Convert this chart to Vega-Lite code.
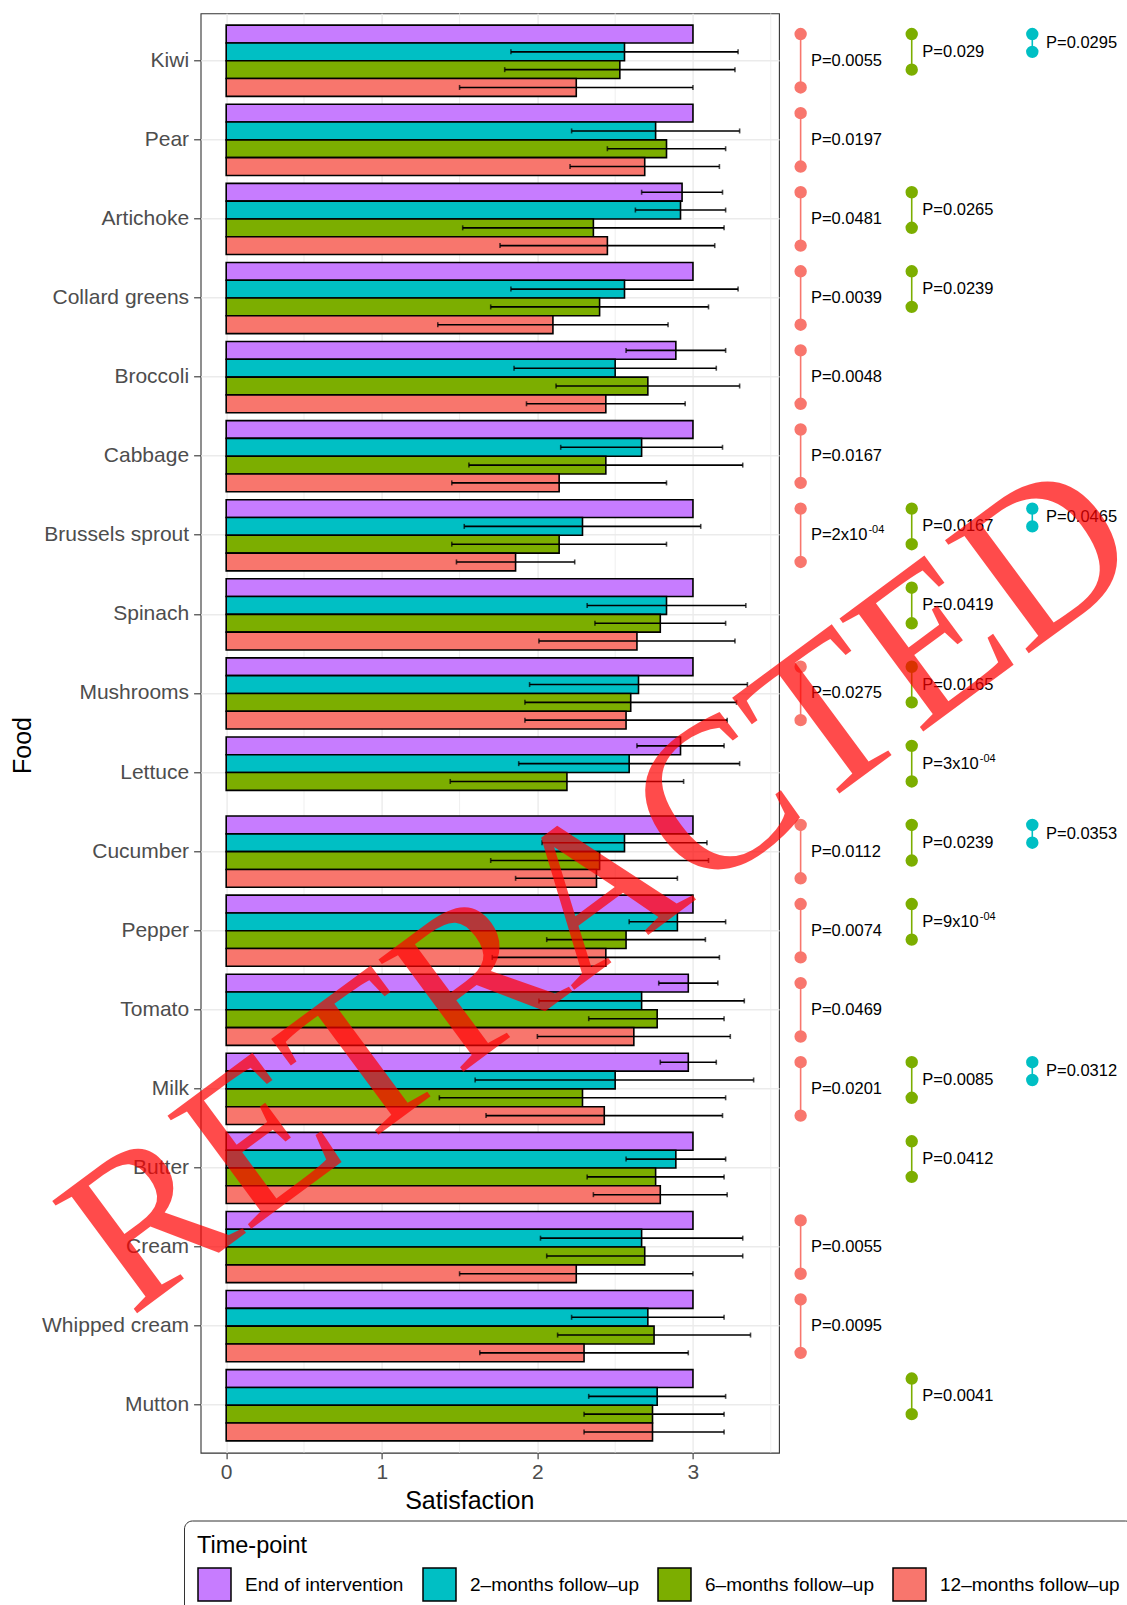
{
  "$schema": "https://vega.github.io/schema/vega-lite/v6.json",
  "width": 578.4,
  "height": 1439.4,
  "autosize": {"type": "none"},
  "padding": {"left": 200.6, "top": 13.3, "right": 348, "bottom": 152.3},
  "background": "white",
  "config": {
    "font": "Liberation Sans",
    "view": {"stroke": "#333333", "strokeWidth": 1.1},
    "axis": {
      "domain": false,
      "grid": true,
      "gridColor": "#EBEBEB",
      "gridWidth": 1.4,
      "tickColor": "#333333",
      "tickWidth": 1.1,
      "labelColor": "#4D4D4D",
      "labelFontSize": 21,
      "titleColor": "black",
      "titleFontSize": 25,
      "titleFontWeight": "normal"
    }
  },
  "datasets": {
    "bars": [
      {"food": "Kiwi", "tp": "End of intervention", "mean": 3.0, "lo": null, "hi": null},
      {"food": "Kiwi", "tp": "2–months follow–up", "mean": 2.56, "lo": 1.83, "hi": 3.29},
      {"food": "Kiwi", "tp": "6–months follow–up", "mean": 2.53, "lo": 1.79, "hi": 3.27},
      {"food": "Kiwi", "tp": "12–months follow–up", "mean": 2.25, "lo": 1.5, "hi": 3.0},
      {"food": "Pear", "tp": "End of intervention", "mean": 3.0, "lo": null, "hi": null},
      {"food": "Pear", "tp": "2–months follow–up", "mean": 2.76, "lo": 2.22, "hi": 3.3},
      {"food": "Pear", "tp": "6–months follow–up", "mean": 2.83, "lo": 2.45, "hi": 3.21},
      {"food": "Pear", "tp": "12–months follow–up", "mean": 2.69, "lo": 2.21, "hi": 3.17},
      {"food": "Artichoke", "tp": "End of intervention", "mean": 2.93, "lo": 2.67, "hi": 3.19},
      {"food": "Artichoke", "tp": "2–months follow–up", "mean": 2.92, "lo": 2.63, "hi": 3.21},
      {"food": "Artichoke", "tp": "6–months follow–up", "mean": 2.36, "lo": 1.52, "hi": 3.2},
      {"food": "Artichoke", "tp": "12–months follow–up", "mean": 2.45, "lo": 1.76, "hi": 3.14},
      {"food": "Collard greens", "tp": "End of intervention", "mean": 3.0, "lo": null, "hi": null},
      {"food": "Collard greens", "tp": "2–months follow–up", "mean": 2.56, "lo": 1.83, "hi": 3.29},
      {"food": "Collard greens", "tp": "6–months follow–up", "mean": 2.4, "lo": 1.7, "hi": 3.1},
      {"food": "Collard greens", "tp": "12–months follow–up", "mean": 2.1, "lo": 1.36, "hi": 2.84},
      {"food": "Broccoli", "tp": "End of intervention", "mean": 2.89, "lo": 2.57, "hi": 3.21},
      {"food": "Broccoli", "tp": "2–months follow–up", "mean": 2.5, "lo": 1.85, "hi": 3.15},
      {"food": "Broccoli", "tp": "6–months follow–up", "mean": 2.71, "lo": 2.12, "hi": 3.3},
      {"food": "Broccoli", "tp": "12–months follow–up", "mean": 2.44, "lo": 1.93, "hi": 2.95},
      {"food": "Cabbage", "tp": "End of intervention", "mean": 3.0, "lo": null, "hi": null},
      {"food": "Cabbage", "tp": "2–months follow–up", "mean": 2.67, "lo": 2.15, "hi": 3.19},
      {"food": "Cabbage", "tp": "6–months follow–up", "mean": 2.44, "lo": 1.56, "hi": 3.32},
      {"food": "Cabbage", "tp": "12–months follow–up", "mean": 2.14, "lo": 1.45, "hi": 2.83},
      {"food": "Brussels sprout", "tp": "End of intervention", "mean": 3.0, "lo": null, "hi": null},
      {"food": "Brussels sprout", "tp": "2–months follow–up", "mean": 2.29, "lo": 1.53, "hi": 3.05},
      {"food": "Brussels sprout", "tp": "6–months follow–up", "mean": 2.14, "lo": 1.45, "hi": 2.83},
      {"food": "Brussels sprout", "tp": "12–months follow–up", "mean": 1.86, "lo": 1.48, "hi": 2.24},
      {"food": "Spinach", "tp": "End of intervention", "mean": 3.0, "lo": null, "hi": null},
      {"food": "Spinach", "tp": "2–months follow–up", "mean": 2.83, "lo": 2.32, "hi": 3.34},
      {"food": "Spinach", "tp": "6–months follow–up", "mean": 2.79, "lo": 2.37, "hi": 3.21},
      {"food": "Spinach", "tp": "12–months follow–up", "mean": 2.64, "lo": 2.01, "hi": 3.27},
      {"food": "Mushrooms", "tp": "End of intervention", "mean": 3.0, "lo": null, "hi": null},
      {"food": "Mushrooms", "tp": "2–months follow–up", "mean": 2.65, "lo": 1.95, "hi": 3.35},
      {"food": "Mushrooms", "tp": "6–months follow–up", "mean": 2.6, "lo": 1.92, "hi": 3.28},
      {"food": "Mushrooms", "tp": "12–months follow–up", "mean": 2.57, "lo": 1.92, "hi": 3.22},
      {"food": "Lettuce", "tp": "End of intervention", "mean": 2.92, "lo": 2.64, "hi": 3.2},
      {"food": "Lettuce", "tp": "2–months follow–up", "mean": 2.59, "lo": 1.88, "hi": 3.3},
      {"food": "Lettuce", "tp": "6–months follow–up", "mean": 2.19, "lo": 1.44, "hi": 2.94},
      {"food": "Cucumber", "tp": "End of intervention", "mean": 3.0, "lo": null, "hi": null},
      {"food": "Cucumber", "tp": "2–months follow–up", "mean": 2.56, "lo": 2.03, "hi": 3.09},
      {"food": "Cucumber", "tp": "6–months follow–up", "mean": 2.4, "lo": 1.7, "hi": 3.1},
      {"food": "Cucumber", "tp": "12–months follow–up", "mean": 2.38, "lo": 1.86, "hi": 2.9},
      {"food": "Pepper", "tp": "End of intervention", "mean": 3.0, "lo": null, "hi": null},
      {"food": "Pepper", "tp": "2–months follow–up", "mean": 2.9, "lo": 2.59, "hi": 3.21},
      {"food": "Pepper", "tp": "6–months follow–up", "mean": 2.57, "lo": 2.06, "hi": 3.08},
      {"food": "Pepper", "tp": "12–months follow–up", "mean": 2.44, "lo": 1.71, "hi": 3.17},
      {"food": "Tomato", "tp": "End of intervention", "mean": 2.97, "lo": 2.78, "hi": 3.16},
      {"food": "Tomato", "tp": "2–months follow–up", "mean": 2.67, "lo": 2.01, "hi": 3.33},
      {"food": "Tomato", "tp": "6–months follow–up", "mean": 2.77, "lo": 2.33, "hi": 3.2},
      {"food": "Tomato", "tp": "12–months follow–up", "mean": 2.62, "lo": 2.0, "hi": 3.24},
      {"food": "Milk", "tp": "End of intervention", "mean": 2.97, "lo": 2.79, "hi": 3.15},
      {"food": "Milk", "tp": "2–months follow–up", "mean": 2.5, "lo": 1.6, "hi": 3.39},
      {"food": "Milk", "tp": "6–months follow–up", "mean": 2.29, "lo": 1.37, "hi": 3.21},
      {"food": "Milk", "tp": "12–months follow–up", "mean": 2.43, "lo": 1.67, "hi": 3.19},
      {"food": "Butter", "tp": "End of intervention", "mean": 3.0, "lo": null, "hi": null},
      {"food": "Butter", "tp": "2–months follow–up", "mean": 2.89, "lo": 2.57, "hi": 3.21},
      {"food": "Butter", "tp": "6–months follow–up", "mean": 2.76, "lo": 2.32, "hi": 3.2},
      {"food": "Butter", "tp": "12–months follow–up", "mean": 2.79, "lo": 2.36, "hi": 3.22},
      {"food": "Cream", "tp": "End of intervention", "mean": 3.0, "lo": null, "hi": null},
      {"food": "Cream", "tp": "2–months follow–up", "mean": 2.67, "lo": 2.02, "hi": 3.32},
      {"food": "Cream", "tp": "6–months follow–up", "mean": 2.69, "lo": 2.06, "hi": 3.32},
      {"food": "Cream", "tp": "12–months follow–up", "mean": 2.25, "lo": 1.5, "hi": 3.0},
      {"food": "Whipped cream", "tp": "End of intervention", "mean": 3.0, "lo": null, "hi": null},
      {"food": "Whipped cream", "tp": "2–months follow–up", "mean": 2.71, "lo": 2.22, "hi": 3.2},
      {"food": "Whipped cream", "tp": "6–months follow–up", "mean": 2.75, "lo": 2.13, "hi": 3.37},
      {"food": "Whipped cream", "tp": "12–months follow–up", "mean": 2.3, "lo": 1.63, "hi": 2.97},
      {"food": "Mutton", "tp": "End of intervention", "mean": 3.0, "lo": null, "hi": null},
      {"food": "Mutton", "tp": "2–months follow–up", "mean": 2.77, "lo": 2.33, "hi": 3.21},
      {"food": "Mutton", "tp": "6–months follow–up", "mean": 2.74, "lo": 2.3, "hi": 3.2},
      {"food": "Mutton", "tp": "12–months follow–up", "mean": 2.74, "lo": 2.3, "hi": 3.2}
    ],
    "pvals": [
      {"food": "Kiwi", "ref": "End of intervention", "cmp": "12–months follow–up", "p": "P=0.0055", "sup": ""},
      {"food": "Pear", "ref": "End of intervention", "cmp": "12–months follow–up", "p": "P=0.0197", "sup": ""},
      {"food": "Artichoke", "ref": "End of intervention", "cmp": "12–months follow–up", "p": "P=0.0481", "sup": ""},
      {"food": "Collard greens", "ref": "End of intervention", "cmp": "12–months follow–up", "p": "P=0.0039", "sup": ""},
      {"food": "Broccoli", "ref": "End of intervention", "cmp": "12–months follow–up", "p": "P=0.0048", "sup": ""},
      {"food": "Cabbage", "ref": "End of intervention", "cmp": "12–months follow–up", "p": "P=0.0167", "sup": ""},
      {"food": "Brussels sprout", "ref": "End of intervention", "cmp": "12–months follow–up", "p": "P=2x10", "sup": "-04"},
      {"food": "Mushrooms", "ref": "End of intervention", "cmp": "12–months follow–up", "p": "P=0.0275", "sup": ""},
      {"food": "Cucumber", "ref": "End of intervention", "cmp": "12–months follow–up", "p": "P=0.0112", "sup": ""},
      {"food": "Pepper", "ref": "End of intervention", "cmp": "12–months follow–up", "p": "P=0.0074", "sup": ""},
      {"food": "Tomato", "ref": "End of intervention", "cmp": "12–months follow–up", "p": "P=0.0469", "sup": ""},
      {"food": "Milk", "ref": "End of intervention", "cmp": "12–months follow–up", "p": "P=0.0201", "sup": ""},
      {"food": "Cream", "ref": "End of intervention", "cmp": "12–months follow–up", "p": "P=0.0055", "sup": ""},
      {"food": "Whipped cream", "ref": "End of intervention", "cmp": "12–months follow–up", "p": "P=0.0095", "sup": ""},
      {"food": "Kiwi", "ref": "End of intervention", "cmp": "6–months follow–up", "p": "P=0.029", "sup": ""},
      {"food": "Artichoke", "ref": "End of intervention", "cmp": "6–months follow–up", "p": "P=0.0265", "sup": ""},
      {"food": "Collard greens", "ref": "End of intervention", "cmp": "6–months follow–up", "p": "P=0.0239", "sup": ""},
      {"food": "Brussels sprout", "ref": "End of intervention", "cmp": "6–months follow–up", "p": "P=0.0167", "sup": ""},
      {"food": "Spinach", "ref": "End of intervention", "cmp": "6–months follow–up", "p": "P=0.0419", "sup": ""},
      {"food": "Mushrooms", "ref": "End of intervention", "cmp": "6–months follow–up", "p": "P=0.0165", "sup": ""},
      {"food": "Lettuce", "ref": "End of intervention", "cmp": "6–months follow–up", "p": "P=3x10", "sup": "-04"},
      {"food": "Cucumber", "ref": "End of intervention", "cmp": "6–months follow–up", "p": "P=0.0239", "sup": ""},
      {"food": "Pepper", "ref": "End of intervention", "cmp": "6–months follow–up", "p": "P=9x10", "sup": "-04"},
      {"food": "Milk", "ref": "End of intervention", "cmp": "6–months follow–up", "p": "P=0.0085", "sup": ""},
      {"food": "Butter", "ref": "End of intervention", "cmp": "6–months follow–up", "p": "P=0.0412", "sup": ""},
      {"food": "Mutton", "ref": "End of intervention", "cmp": "6–months follow–up", "p": "P=0.0041", "sup": ""},
      {"food": "Kiwi", "ref": "End of intervention", "cmp": "2–months follow–up", "p": "P=0.0295", "sup": ""},
      {"food": "Brussels sprout", "ref": "End of intervention", "cmp": "2–months follow–up", "p": "P=0.0465", "sup": ""},
      {"food": "Cucumber", "ref": "End of intervention", "cmp": "2–months follow–up", "p": "P=0.0353", "sup": ""},
      {"food": "Milk", "ref": "End of intervention", "cmp": "2–months follow–up", "p": "P=0.0312", "sup": ""}
    ],
    "minorGrid": [{"g": 0.5}, {"g": 1.5}, {"g": 2.5}, {"g": 3.5}]
  },
  "layer": [
    {
      "data": {"name": "minorGrid"},
      "mark": {"type": "rule", "color": "#EBEBEB", "strokeWidth": 0.8},
      "encoding": {"x": {"field": "g", "type": "quantitative", "title": "Satisfaction"}}
    },
    {
      "data": {"name": "bars"},
      "mark": {"type": "bar", "stroke": "black", "strokeWidth": 1.6, "opacity": 1},
      "encoding": {
        "x": {
          "field": "mean", "type": "quantitative", "title": "Satisfaction",
          "scale": {"domain": [-0.1645, 3.553], "nice": false},
          "axis": {"values": [0, 1, 2, 3], "format": "d", "tickSize": 6, "labelPadding": 3,
                   "titleX": 268.7, "titleY": 55.6, "titleBaseline": "alphabetic", "titleAlign": "center"}
        },
        "x2": {"datum": 0},
        "y": {
          "field": "food", "type": "nominal", "title": "Food", "sort": null,
          "scale": {
            "domain": ["Kiwi", "Pear", "Artichoke", "Collard greens", "Broccoli", "Cabbage", "Brussels sprout", "Spinach", "Mushrooms", "Lettuce", "Cucumber", "Pepper", "Tomato", "Milk", "Butter", "Cream", "Whipped cream", "Mutton"],
            "paddingInner": 0.1, "paddingOuter": 0.15
          },
          "axis": {"bandPosition": 0.5, "tickSize": 7, "labelPadding": 5,
                   "titleX": -178.6, "titleY": 731.7, "titleAngle": -90, "titleBaseline": "middle", "titleAlign": "center"}
        },
        "yOffset": {
          "field": "tp", "type": "nominal", "sort": null,
          "scale": {"domain": ["End of intervention", "2–months follow–up", "6–months follow–up", "12–months follow–up"], "paddingInner": 0, "paddingOuter": 0}
        },
        "color": {
          "field": "tp", "type": "nominal", "sort": null,
          "scale": {
            "domain": ["End of intervention", "2–months follow–up", "6–months follow–up", "12–months follow–up"],
            "range": ["#C77CFF", "#00BFC4", "#7CAE00", "#F8766D"]
          },
          "legend": {
            "title": "Time-point", "orient": "none", "legendX": -16.6, "legendY": 1507.2,
            "direction": "horizontal", "titleFontSize": 23.5, "titleFontWeight": "normal", "titleColor": "black",
            "titlePadding": 10, "labelFontSize": 19, "labelColor": "black", "labelOffset": 13, "labelLimit": 400,
            "symbolType": "square", "symbolSize": 1089, "symbolStrokeColor": "black", "symbolStrokeWidth": 1.5,
            "symbolOpacity": 1, "columnPadding": 16, "padding": 13, "strokeColor": "#333333",
            "fillColor": "white", "cornerRadius": 8
          }
        }
      }
    },
    {
      "data": {"name": "bars"},
      "transform": [{"filter": "datum.lo != null"}],
      "mark": {"type": "rule", "color": "black", "strokeWidth": 1.6},
      "encoding": {
        "x": {"field": "lo", "type": "quantitative", "title": "Satisfaction"},
        "x2": {"field": "hi"},
        "y": {"field": "food", "type": "nominal", "title": "Food"},
        "yOffset": {"field": "tp", "type": "nominal"}
      }
    },
    {
      "data": {"name": "bars"},
      "transform": [{"filter": "datum.lo != null"}, {"fold": ["lo", "hi"], "as": ["end", "val"]}],
      "mark": {"type": "tick", "color": "black", "thickness": 1.6, "size": 5, "orient": "vertical"},
      "encoding": {
        "x": {"field": "val", "type": "quantitative", "title": "Satisfaction"},
        "y": {"field": "food", "type": "nominal", "title": "Food"},
        "yOffset": {"field": "tp", "type": "nominal"}
      }
    },
    {
      "data": {"name": "pvals"},
      "transform": [{"filter": "datum.cmp === '12–months follow–up'"}],
      "layer": [
        {
          "transform": [{"fold": ["ref", "cmp"], "as": ["role", "pt"]}],
          "layer": [
            {
              "mark": {"type": "line", "color": "#F8766D", "strokeWidth": 1.6},
              "encoding": {
                "x": {"datum": 3.692, "title": "Satisfaction"},
                "y": {"field": "food", "type": "nominal", "title": "Food"},
                "yOffset": {"field": "pt", "type": "nominal"},
                "detail": {"field": "food"}
              }
            },
            {
              "mark": {"type": "circle", "color": "#F8766D", "size": 154, "opacity": 1},
              "encoding": {
                "x": {"datum": 3.692, "title": "Satisfaction"},
                "y": {"field": "food", "type": "nominal", "title": "Food"},
                "yOffset": {"field": "pt", "type": "nominal"}
              }
            }
          ]
        },
        {
          "mark": {"type": "text", "align": "left", "baseline": "middle", "dx": 10.3, "fontSize": 16.5, "color": "black"},
          "encoding": {
            "x": {"datum": 3.692, "title": "Satisfaction"},
            "y": {"field": "food", "type": "nominal", "title": "Food"},
            "text": {"field": "p"}
          }
        },
        {
          "transform": [{"filter": "datum.sup !== ''"}],
          "mark": {"type": "text", "align": "left", "baseline": "middle", "dx": 67.8, "dy": -5, "fontSize": 11, "color": "black"},
          "encoding": {
            "x": {"datum": 3.692, "title": "Satisfaction"},
            "y": {"field": "food", "type": "nominal", "title": "Food"},
            "text": {"field": "sup"}
          }
        }
      ]
    },
    {
      "data": {"name": "pvals"},
      "transform": [{"filter": "datum.cmp === '6–months follow–up'"}],
      "layer": [
        {
          "transform": [{"fold": ["ref", "cmp"], "as": ["role", "pt"]}],
          "layer": [
            {
              "mark": {"type": "line", "color": "#7CAE00", "strokeWidth": 1.6},
              "encoding": {
                "x": {"datum": 4.406, "title": "Satisfaction"},
                "y": {"field": "food", "type": "nominal", "title": "Food"},
                "yOffset": {"field": "pt", "type": "nominal"},
                "detail": {"field": "food"}
              }
            },
            {
              "mark": {"type": "circle", "color": "#7CAE00", "size": 154, "opacity": 1},
              "encoding": {
                "x": {"datum": 4.406, "title": "Satisfaction"},
                "y": {"field": "food", "type": "nominal", "title": "Food"},
                "yOffset": {"field": "pt", "type": "nominal"}
              }
            }
          ]
        },
        {
          "mark": {"type": "text", "align": "left", "baseline": "middle", "dx": 10.6, "fontSize": 16.5, "color": "black"},
          "encoding": {
            "x": {"datum": 4.406, "title": "Satisfaction"},
            "y": {"field": "food", "type": "nominal", "title": "Food"},
            "yOffset": {"datum": "2–months follow–up"},
            "text": {"field": "p"}
          }
        },
        {
          "transform": [{"filter": "datum.sup !== ''"}],
          "mark": {"type": "text", "align": "left", "baseline": "middle", "dx": 68.1, "dy": -5, "fontSize": 11, "color": "black"},
          "encoding": {
            "x": {"datum": 4.406, "title": "Satisfaction"},
            "y": {"field": "food", "type": "nominal", "title": "Food"},
            "yOffset": {"datum": "2–months follow–up"},
            "text": {"field": "sup"}
          }
        }
      ]
    },
    {
      "data": {"name": "pvals"},
      "transform": [{"filter": "datum.cmp === '2–months follow–up'"}],
      "layer": [
        {
          "transform": [{"fold": ["ref", "cmp"], "as": ["role", "pt"]}],
          "layer": [
            {
              "mark": {"type": "line", "color": "#00BFC4", "strokeWidth": 1.6},
              "encoding": {
                "x": {"datum": 5.181, "title": "Satisfaction"},
                "y": {"field": "food", "type": "nominal", "title": "Food"},
                "yOffset": {"field": "pt", "type": "nominal"},
                "detail": {"field": "food"}
              }
            },
            {
              "mark": {"type": "circle", "color": "#00BFC4", "size": 154, "opacity": 1},
              "encoding": {
                "x": {"datum": 5.181, "title": "Satisfaction"},
                "y": {"field": "food", "type": "nominal", "title": "Food"},
                "yOffset": {"field": "pt", "type": "nominal"}
              }
            }
          ]
        },
        {
          "mark": {"type": "text", "align": "left", "baseline": "middle", "dx": 13.7, "dy": 8.9, "fontSize": 16.5, "color": "black"},
          "encoding": {
            "x": {"datum": 5.181, "title": "Satisfaction"},
            "y": {"field": "food", "type": "nominal", "title": "Food"},
            "yOffset": {"datum": "End of intervention"},
            "text": {"field": "p"}
          }
        }
      ]
    },
    {
      "data": {"values": [{"label": "RETRACTED"}]},
      "mark": {"type": "text", "font": "Liberation Serif", "fontSize": 215, "angle": -36.5, "color": "#FF0000", "opacity": 0.7, "align": "center", "baseline": "middle", "dx": 16, "dy": -40},
      "encoding": {
        "x": {"datum": 2.48, "title": "Satisfaction"},
        "y": {"datum": "Pepper", "title": "Food"},
        "text": {"field": "label"}
      }
    }
  ]
}
